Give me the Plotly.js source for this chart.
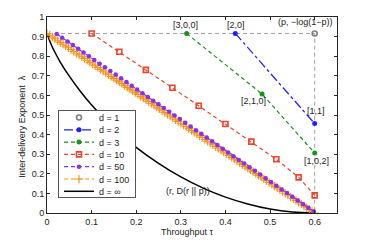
<!DOCTYPE html>
<html><head><meta charset="utf-8">
<script src="https://cdn.plot.ly/plotly-3.0.1.min.js"></script>
<style>html,body{margin:0;padding:0;background:#fff}#c{width:373px;height:240px}</style>
</head><body><div id="c"></div>
<script>
// ---- data ----
const d1X = [0.6];
const d1Y = [0.916];
const d2X = [0.422, 0.6];
const d2Y = [0.916, 0.456];
const d3X = [0.313, 0.482, 0.6];
const d3Y = [0.916, 0.607, 0.306];
const d10X = [0.1, 0.162, 0.2215, 0.281, 0.34, 0.40, 0.458, 0.514, 0.564, 0.6];
const d10Y = [0.916, 0.823, 0.730, 0.639, 0.547, 0.454, 0.364, 0.274, 0.182, 0.09];
const d50X = [0.022,0.034,0.046,0.058,0.070,0.082,0.094,0.106,0.118,0.130,0.142,0.154,0.166,0.178,0.190,0.202,0.214,0.226,0.238,0.250,0.262,0.274,0.286,0.298,0.310,0.322,0.334,0.346,0.358,0.370,0.382,0.394,0.406,0.418,0.430,0.442,0.454,0.466,0.478,0.490,0.502,0.514,0.526,0.538,0.550,0.562,0.574,0.586,0.598];
const d50Y = [0.913,0.894,0.875,0.857,0.838,0.819,0.800,0.781,0.762,0.743,0.724,0.706,0.687,0.668,0.649,0.630,0.611,0.592,0.573,0.555,0.536,0.517,0.498,0.479,0.460,0.441,0.422,0.404,0.385,0.366,0.347,0.328,0.309,0.290,0.271,0.253,0.234,0.215,0.196,0.177,0.158,0.139,0.120,0.102,0.083,0.064,0.045,0.026,0.008];
const d100X = [0,0.006,0.012,0.018,0.024,0.030,0.036,0.042,0.048,0.054,0.060,0.066,0.072,0.078,0.084,0.090,0.096,0.102,0.108,0.114,0.120,0.126,0.132,0.138,0.144,0.150,0.156,0.162,0.168,0.174,0.180,0.186,0.192,0.198,0.204,0.210,0.216,0.222,0.228,0.234,0.240,0.246,0.252,0.258,0.264,0.270,0.276,0.282,0.288,0.294,0.300,0.306,0.312,0.318,0.324,0.330,0.336,0.342,0.348,0.354,0.360,0.366,0.372,0.378,0.384,0.390,0.396,0.402,0.408,0.414,0.420,0.426,0.432,0.438,0.444,0.450,0.456,0.462,0.468,0.474,0.480,0.486,0.492,0.498,0.504,0.510,0.516,0.522,0.528,0.534,0.540,0.546,0.552,0.558,0.564,0.570,0.576,0.582,0.588,0.594,0.600];
const d100Y = [0.916,0.907,0.898,0.889,0.879,0.870,0.861,0.852,0.843,0.834,0.824,0.815,0.806,0.797,0.788,0.779,0.769,0.760,0.751,0.742,0.733,0.724,0.714,0.705,0.696,0.687,0.678,0.669,0.660,0.650,0.641,0.632,0.623,0.614,0.605,0.595,0.586,0.577,0.568,0.559,0.550,0.540,0.531,0.522,0.513,0.504,0.495,0.485,0.476,0.467,0.458,0.449,0.440,0.430,0.421,0.412,0.403,0.394,0.385,0.375,0.366,0.357,0.348,0.339,0.330,0.321,0.311,0.302,0.293,0.284,0.275,0.266,0.256,0.247,0.238,0.229,0.220,0.211,0.201,0.192,0.183,0.174,0.165,0.156,0.147,0.137,0.128,0.119,0.110,0.101,0.092,0.082,0.073,0.064,0.055,0.046,0.037,0.027,0.018,0.009,0.000];
const dInfX = [0,0.01,0.02,0.03,0.05,0.075,0.1,0.15,0.2,0.25,0.3,0.35,0.4,0.45,0.5,0.55,0.6];
const dInfY = [0.916,0.856,0.810,0.769,0.698,0.620,0.551,0.433,0.335,0.253,0.184,0.127,0.081,0.046,0.020,0.005,0];
const refX = [0, 0.6, 0.6];
const refY = [0.916, 0.916, 0];
const legendNames = ['d = 1','d = 2','d = 3','d = 10','d = 50','d = 100','d = \u221e'];
const xTicks = [0,0.1,0.2,0.3,0.4,0.5,0.6];
const labels = [
  {t:'[3,0,0]', x:0.311, y:0.959},
  {t:'[2,0]', x:0.423, y:0.959},
  {t:'(p, \u2212log(1\u2212p))', x:0.579, y:0.972},
  {t:'[2,1,0]', x:0.463, y:0.571},
  {t:'[1,1]', x:0.604, y:0.520},
  {t:'[1,0,2]', x:0.604, y:0.265},
  {t:'(r, D(r || p))', x:0.317, y:0.112}
];

const FONT = 'Liberation Sans, Arial, sans-serif';
const cBlue='#1f1fff', cGreen='#1d8f1d', cRed='#e8462c', cPurple='#8a30e6', cOrange='#f0921c';

const traces = [
  {x:refX, y:refY, mode:'lines', line:{color:'#a0a0a0', width:1, dash:'4px,3px'}, showlegend:false, hoverinfo:'skip'},
  {x:dInfX, y:dInfY, mode:'lines', line:{color:'#000', width:1.5, shape:'spline'}, name:legendNames[6], showlegend:false},
  {x:d100X, y:d100Y, mode:'lines+markers', line:{color:cOrange, width:1.2, dash:'4px,3px'}, marker:{symbol:'cross-thin-open', size:6, line:{color:cOrange, width:1.1}}, name:legendNames[5], showlegend:false},
  {x:d50X, y:d50Y, mode:'lines+markers', line:{color:cPurple, width:1.2, dash:'4px,3px'}, marker:{symbol:'circle', size:4.5, color:cPurple}, name:legendNames[4], showlegend:false},
  {x:d10X, y:d10Y, mode:'lines+markers', line:{color:cRed, width:1.2, dash:'4px,3px'}, marker:{symbol:'square-open', size:5, line:{color:cRed, width:1.6}}, name:legendNames[3], showlegend:false},
  {x:d3X, y:d3Y, mode:'lines+markers', line:{color:cGreen, width:1.2, dash:'4px,3px'}, marker:{symbol:'circle', size:5, color:cGreen}, name:legendNames[2], showlegend:false},
  {x:d2X, y:d2Y, mode:'lines+markers', line:{color:cBlue, width:1.2, dash:'dashdot'}, marker:{symbol:'circle', size:5, color:cBlue}, name:legendNames[1], showlegend:false},
  {x:d1X, y:d1Y, mode:'markers', marker:{symbol:'circle-open', size:5, line:{color:'#000', width:1.6}}, name:legendNames[0], showlegend:false}
];
const legOrder = [7,6,5,4,3,2,1];
legOrder.forEach((ti,k)=>{ traces[ti].showlegend = true; traces[ti].legendrank = k+1; });

const ann = labels.map(l=>({text:l.t, x:l.x, y:l.y, xref:'x', yref:'y', xanchor:'center', yanchor:'middle', showarrow:false, font:{family:FONT, size:9, color:'#222'}}));
ann.push({text:'Throughput \u03c4', xref:'paper', yref:'paper', x:0.486, y:-0.097, xanchor:'center', yanchor:'middle', showarrow:false, font:{family:FONT, size:9, color:'#222'}});
ann.push({text:'Inter-delivery Exponent  \u03bb', xref:'paper', yref:'paper', x:-0.086, y:0.44, xanchor:'center', yanchor:'middle', textangle:-90, showarrow:false, font:{family:FONT, size:9, color:'#222'}});

const axCommon = {showline:true, linecolor:'#262626', linewidth:1, mirror:'ticks', ticks:'inside', ticklen:3, tickcolor:'#262626', showgrid:false, zeroline:false, tickfont:{family:FONT, size:9, color:'#222'}};

const layout = {
  width:373, height:240, margin:{l:47, r:36, t:17, b:27},
  paper_bgcolor:'#fff', plot_bgcolor:'#fff',
  showlegend:true,
  xaxis:Object.assign({range:[0,0.65], tickvals:xTicks, ticktext:xTicks.map(String)}, axCommon),
  yaxis:Object.assign({range:[0,1], dtick:0.1, tick0:0}, axCommon),
  legend:{x:0.038, y:0.98, xanchor:'left', yanchor:'top', bgcolor:'#fff', bordercolor:'#555', borderwidth:1, font:{family:FONT, size:9, color:'#222'}, itemwidth:30, tracegroupgap:0},
  annotations:ann
};

Plotly.newPlot('c', traces, layout, {displayModeBar:false, staticPlot:true}).then(gd=>{
  const items = gd.querySelectorAll('.legend .traces');
  const step = 12.3;
  items.forEach((it,i)=>{
    const m = /translate\(([-\d.]+)[ ,]+([-\d.]+)\)/.exec(it.getAttribute('transform')||'');
    const x = m ? parseFloat(m[1]) : 0;
    it.setAttribute('transform', 'translate('+x+','+(7.5 + i*step)+')');
  });
  const bg = gd.querySelector('.legend .bg');
  if (bg) bg.setAttribute('height', '87');
  const leg = gd.querySelector('g.legend');
  if (leg) leg.setAttribute('transform', 'translate(58,110)');
});
</script></body></html>
